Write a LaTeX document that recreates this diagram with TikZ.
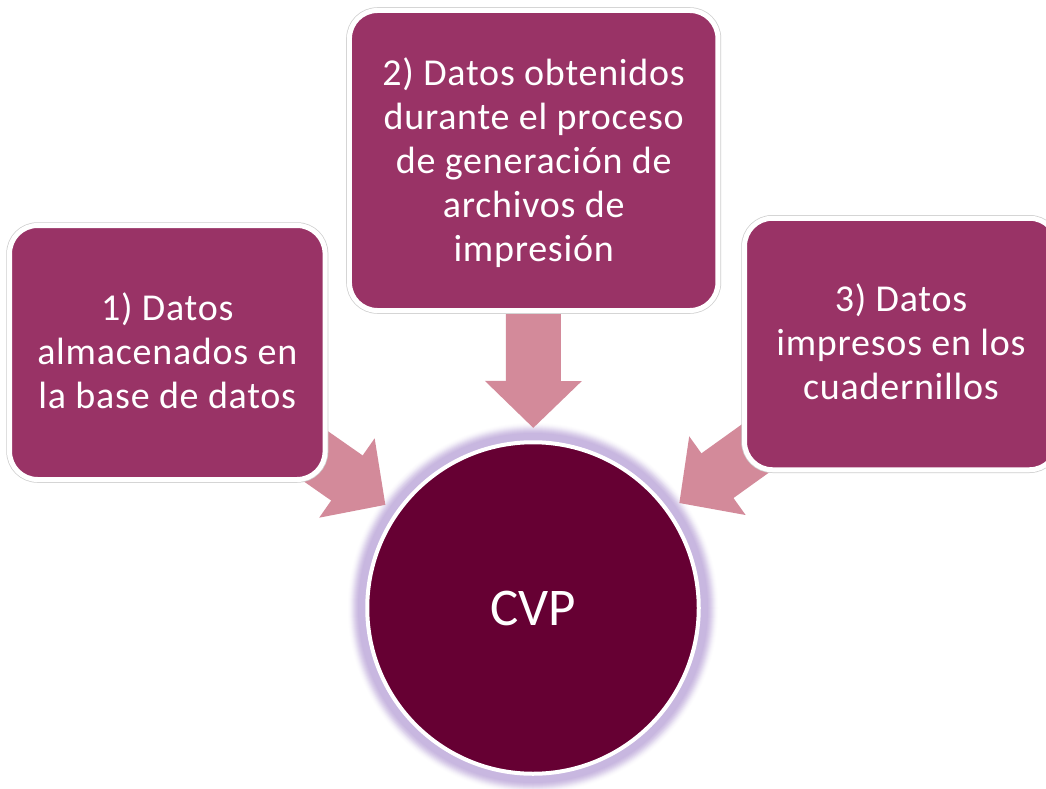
\documentclass[tikz,border=0pt]{standalone}
\usepackage{fontspec}
\setmainfont{Carlito}
\usetikzlibrary{arrows.meta}
\definecolor{boxfill}{HTML}{993366}
\definecolor{corefill}{HTML}{660033}
\definecolor{flowfill}{HTML}{D38A9A}
\definecolor{glowc}{HTML}{C8B7E0}
\definecolor{edgegrey}{HTML}{CFCFCF}
\pgfdeclarelayer{back}
\pgfsetlayers{back,main}
\newcommand\boxlines[1]{\begin{tabular}{@{}c@{}}#1\end{tabular}}
\tikzset{
  sourcebox/.style={rectangle,rounded corners=28pt,fill=boxfill,draw=white,line width=5pt,
    preaction={draw=edgegrey,line width=6.5pt},
    text=white,font=\fontsize{38}{44}\selectfont\addfontfeature{LetterSpace=2},inner sep=0pt},
  corenode/.style={circle,fill=corefill,draw=white,line width=4pt,minimum size=331.5pt,
    inner sep=0pt,text=white,font=\fontsize{53}{60}\selectfont},
  flow/.style={draw=flowfill,line width=55pt,shorten >=180pt,
    -{Triangle[width=94pt,length=47pt]}}
}
\begin{document}
\begin{tikzpicture}[x=1pt,y=-1pt]
\useasboundingbox (0,0) rectangle (1046,789);
\clip (0,0) rectangle (1046,789);
\node[sourcebox,minimum width=315.5pt,minimum height=254pt] (b1) at (167.3,352.5)
  {\boxlines{\rule{0pt}{36.8pt}1) Datos\\almacenados en\\la base de datos}};
\node[sourcebox,minimum width=368.5pt,minimum height=300pt] (b2) at (533.7,160.5)
  {\boxlines{\rule{0pt}{38.8pt}2) Datos obtenidos\\durante el proceso\\de generación de\\archivos de\\impresión}};
\node[sourcebox,minimum width=313pt,minimum height=251.5pt] (b3) at (901,344)
  {\boxlines{\rule{0pt}{36.8pt}3) Datos\\impresos en los\\cuadernillos}};
\node[corenode] (cvp) at (533,608) {CVP};
\begin{pgfonlayer}{back}
  \fill[white] (0,0) rectangle (1046,789);
  \foreach \r/\p in {185/4,184/9,183/17,182/27,181/38,180/50,179/62,178/73,177/83,176/92,175/100}{
    \fill[glowc!\p!white] (cvp.center) circle (\r pt);
  }
  \draw[flow] (b1.center) -- (cvp.center);
  \draw[flow] (b2.center) -- (cvp.center);
  \draw[flow] (b3.center) -- (cvp.center);
\end{pgfonlayer}
\end{tikzpicture}
\end{document}
